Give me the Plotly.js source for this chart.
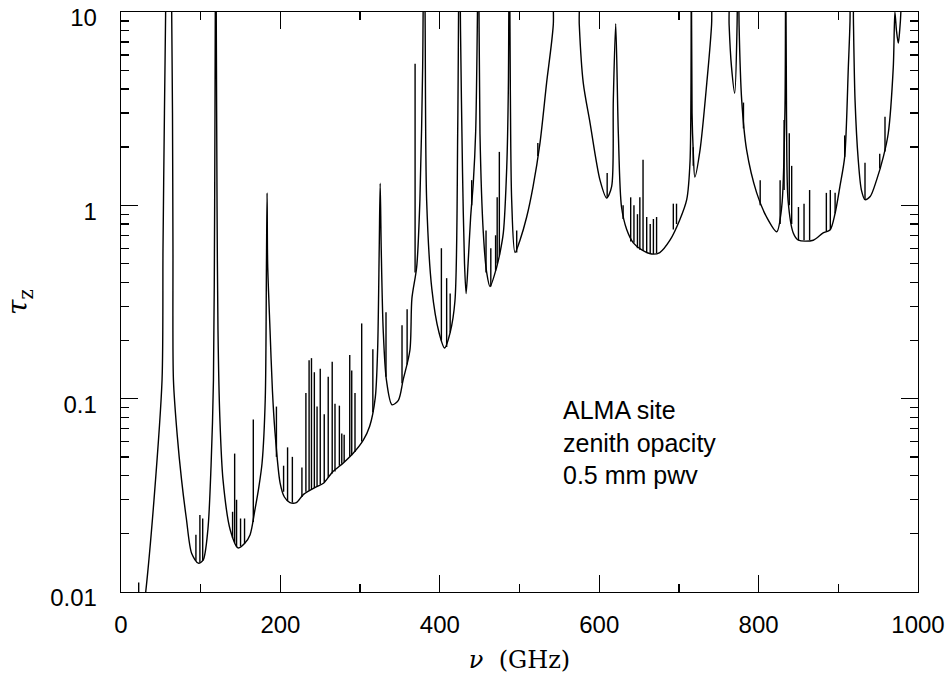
<!DOCTYPE html>
<html>
<head>
<meta charset="utf-8">
<script src="https://cdn.plot.ly/plotly-3.0.1.min.js"></script>
<style>
html,body{margin:0;padding:0;background:#fff;}
#chart{width:951px;height:674px;}
</style>
</head>
<body>
<div id="chart"></div>
<script>
// Continuum (frequency in GHz, zenith opacity)
const freq = [28, 31, 41.4, 51.5, 52.7, 54.5, 56, 57, 63, 63.6, 64.6, 65.2, 65.8, 70.5, 76, 82, 88.7, 97, 103, 109, 113, 116, 117.5, 118.3, 118.75, 119.5, 120.5, 121.7, 124, 128, 137, 147, 155, 162, 168, 173, 177, 181, 182.5, 183.3, 184, 187, 190, 193, 199.6, 205, 212, 220, 229, 245, 254, 266, 279, 291, 304, 312, 319, 322, 324, 325.2, 326.5, 329, 333, 340, 348, 354, 362.5, 365, 371, 375, 378.5, 380, 381.5, 383.5, 390, 399, 406, 413, 419, 422.5, 424.5, 426, 428.5, 431, 433, 435.5, 438.7, 442, 445, 447, 448.5, 450.4, 454.6, 458.8, 463, 471.4, 475.6, 479.7, 484, 486, 487.2, 488.5, 490.2, 494.4, 500.6, 509, 517, 525.7, 534, 542.4, 545, 571.7, 575, 580, 588.5, 601, 609.4, 615.6, 617.7, 620.7, 624, 628, 634.5, 642.8, 653, 665.8, 676, 688.8, 701, 709.8, 714, 715.5, 716.5, 718, 720, 726.5, 735, 741, 745, 760, 763, 766, 770, 773, 774, 775.5, 778.8, 785, 797.6, 810, 822.7, 829, 833, 834, 835, 837, 843.5, 850, 868.6, 881, 889.6, 896, 902, 908, 912.6, 914.7, 916, 917.5, 919, 921, 925, 929, 933.5, 940, 948, 956.5, 962.7, 969, 971, 973, 975.3, 977, 978.5, 980, 1000];
const tau = [0.008, 0.01, 0.030, 0.125, 0.6, 3, 10, 30, 30, 10, 3, 0.6, 0.125, 0.065, 0.038, 0.024, 0.0158, 0.0141, 0.0146, 0.021, 0.045, 0.125, 1, 10, 30, 10, 1, 0.226, 0.08, 0.038, 0.021, 0.0169, 0.0178, 0.0198, 0.0266, 0.035, 0.0465, 0.1, 0.5, 1.16, 0.5, 0.226, 0.11, 0.069, 0.0367, 0.031, 0.029, 0.029, 0.032, 0.035, 0.0365, 0.042, 0.0465, 0.052, 0.061, 0.072, 0.101, 0.18, 0.6, 1.3, 0.6, 0.226, 0.125, 0.093, 0.098, 0.125, 0.178, 0.33, 0.48, 1.06, 5.2, 30, 10, 1.06, 0.37, 0.22, 0.183, 0.22, 0.32, 2.5, 30, 8, 1.5, 0.5, 0.35, 0.5, 0.87, 1.3, 2.4, 8, 30, 2.36, 0.72, 0.45, 0.38, 0.48, 0.57, 0.72, 1.58, 4, 30, 4, 1.06, 0.57, 0.66, 0.87, 1.25, 2.1, 4.3, 8.6, 30, 30, 8.6, 4.3, 2.67, 1.35, 1.09, 1.25, 3.5, 8.7, 2.36, 0.98, 0.75, 0.64, 0.59, 0.56, 0.57, 0.66, 0.84, 1.07, 1.7, 30, 3, 1.9, 1.4, 1.93, 4.3, 8.6, 30, 30, 8.6, 5.2, 3.8, 8.6, 30, 8.6, 3.5, 1.93, 1.16, 0.87, 0.73, 0.98, 3, 30, 3, 1.06, 0.72, 0.66, 0.66, 0.72, 0.745, 0.91, 1.25, 1.78, 5.2, 9, 30, 30, 9, 3.5, 1.72, 1.2, 1.07, 1.11, 1.35, 1.78, 2.36, 5.2, 10, 8, 6.9, 8, 10, 30, 30];

// Narrow lines: frequency, base and peak opacity
const lineFreq = [22.2, 94, 99, 102.5, 140, 142.6, 145, 150, 155, 166, 195, 204, 209, 215, 227, 232, 236, 239, 242.6, 246, 250, 255, 260, 265, 268.5, 274, 277, 280, 287, 289.5, 293.6, 302, 316, 332.5, 352.6, 359, 369, 402, 408.6, 413, 440, 458, 464, 470, 472, 474.7, 496.5, 523, 610, 630, 639.5, 643.6, 648, 651, 655, 659.6, 664, 668, 672, 693, 697, 718, 781, 802, 827, 832, 838.5, 841.5, 850, 857, 864, 885, 890, 896, 908, 933.5, 952, 958.6];
const lineBase = [0.005, 0.0145, 0.0142, 0.0145, 0.019, 0.018, 0.0172, 0.0172, 0.0178, 0.023, 0.05, 0.033, 0.0295, 0.029, 0.031, 0.033, 0.0335, 0.034, 0.0345, 0.035, 0.036, 0.037, 0.039, 0.041, 0.042, 0.045, 0.046, 0.047, 0.05, 0.051, 0.053, 0.06, 0.085, 0.13, 0.12, 0.15, 0.45, 0.2, 0.185, 0.22, 1.0, 0.45, 0.38, 0.46, 0.5, 0.55, 0.57, 1.8, 1.09, 0.85, 0.65, 0.64, 0.6, 0.59, 0.58, 0.57, 0.56, 0.56, 0.565, 0.75, 0.8, 1.6, 2.5, 1.0, 0.8, 1.2, 1.0, 0.8, 0.66, 0.66, 0.66, 0.73, 0.75, 0.91, 1.78, 1.07, 1.55, 1.9];
const linePeak = [0.0112, 0.0198, 0.025, 0.024, 0.026, 0.052, 0.030, 0.024, 0.024, 0.078, 0.091, 0.045, 0.056, 0.050, 0.044, 0.107, 0.158, 0.162, 0.137, 0.091, 0.143, 0.083, 0.13, 0.155, 0.094, 0.092, 0.066, 0.065, 0.168, 0.14, 0.107, 0.245, 0.18, 0.28, 0.24, 0.29, 5.4, 0.60, 0.42, 0.35, 1.35, 0.74, 0.6, 0.7, 1.1, 1.89, 0.74, 2.1, 1.47, 1.0, 1.1, 1.0, 0.9, 1.1, 1.72, 0.87, 0.8, 0.85, 0.87, 1.02, 1.02, 2.0, 3.4, 1.35, 1.35, 2.76, 2.36, 1.6, 0.98, 1.02, 1.2, 1.16, 1.2, 1.16, 2.3, 1.66, 1.85, 2.87];

const yTickVals = [0.01, 0.1, 1, 10];
const yTickText = ['0.01', '0.1', '1', '10'];
const noteLines = ['ALMA site', 'zenith opacity', '0.5 mm pwv'];

const lx = [], ly = [];
for (let i = 0; i < lineFreq.length; i++) {
  lx.push(lineFreq[i], lineFreq[i], null);
  ly.push(lineBase[i], linePeak[i], null);
}

const traces = [
  {x: freq, y: tau, type: 'scatter', mode: 'lines',
   line: {color: '#000', width: 1.4, shape: 'spline', smoothing: 0.8}, hoverinfo: 'skip', showlegend: false},
  {x: lx, y: ly, type: 'scatter', mode: 'lines',
   line: {color: '#000', width: 1.4}, hoverinfo: 'skip', showlegend: false, connectgaps: false}
];

const tickFont = {family: 'Liberation Sans, Arial, sans-serif', size: 24, color: '#000'};
const axisCommon = {
  showline: true, linecolor: '#000', linewidth: 1.3, mirror: 'ticks',
  ticks: 'inside', ticklen: 17, tickwidth: 1.3, tickcolor: '#000',
  showgrid: false, zeroline: false, tickfont: tickFont
};

const layout = {
  width: 951, height: 674,
  margin: {l: 121, r: 33, t: 12, b: 82},
  paper_bgcolor: '#fff', plot_bgcolor: '#fff',
  xaxis: Object.assign({}, axisCommon, {
    range: [0, 1000], dtick: 200, tick0: 0,
    minor: {dtick: 100, ticks: 'inside', ticklen: 8, tickwidth: 1.3, tickcolor: '#000', showgrid: false},
    ticklabelstandoff: 11,
    title: {text: '<i>ν</i>  (GHz)', font: {family: 'DejaVu Serif, serif', size: 24, color: '#000'}, standoff: 14}
  }),
  yaxis: Object.assign({}, axisCommon, {
    type: 'log', range: [-2.00001, 1.00001],
    tickmode: 'array', tickvals: yTickVals, ticktext: yTickText,
    minor: {dtick: 'D1', ticks: 'inside', ticklen: 8, tickwidth: 1.3, tickcolor: '#000', showgrid: false},
    ticklabelstandoff: 18, ticklabelshift: 6,
    title: {text: '<i>τ</i><sub>z</sub>', font: {family: 'DejaVu Serif, serif', size: 28, color: '#000'}, standoff: 14}
  }),
  annotations: [{
    xref: 'paper', yref: 'paper', x: 0.552, y: 0.257, xanchor: 'left', yanchor: 'middle',
    align: 'left', showarrow: false, text: noteLines.join('<br>'),
    font: {family: 'Liberation Sans, Arial, sans-serif', size: 25, color: '#000'}
  }]
};

Plotly.newPlot('chart', traces, layout, {staticPlot: true, displayModeBar: false});
</script>
</body>
</html>
